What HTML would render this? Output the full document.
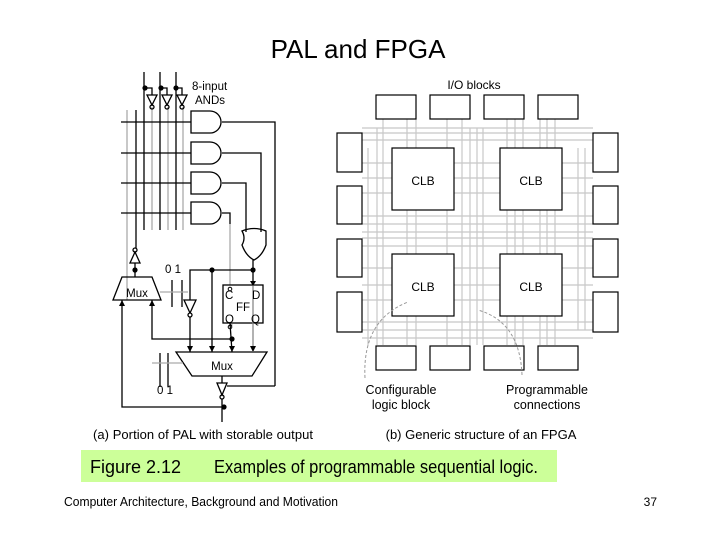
<!DOCTYPE html>
<html><head><style>
body{margin:0;width:720px;height:540px;background:#fff;overflow:hidden;font-family:"Liberation Sans",sans-serif}
</style></head><body>
<svg width="720" height="540" viewBox="0 0 720 540" xmlns="http://www.w3.org/2000/svg" font-family="Liberation Sans, sans-serif">
<text x="358" y="58" font-size="26" text-anchor="middle">PAL and FPGA</text>

<!-- PAL -->
<g stroke="#000" stroke-width="1.3" fill="none">
<line x1="144" y1="72" x2="144" y2="230"/>
<line x1="160" y1="72" x2="160" y2="230"/>
<line x1="176" y1="72" x2="176" y2="230"/>
<line x1="136" y1="110" x2="136" y2="248"/>
</g>
<g stroke="#aaa" stroke-width="1.3" fill="none">
<line x1="127" y1="110" x2="127" y2="300"/>
<line x1="152" y1="107" x2="152" y2="230"/>
<line x1="168" y1="107" x2="168" y2="230"/>
<line x1="183" y1="107" x2="183" y2="230"/>
<line x1="230" y1="224" x2="230" y2="285"/>
</g>
<g stroke="#000" stroke-width="1.3" fill="none">
<path d="M145 88 H152 V95 M161 88 H167 V95 M176 88 H182 V95"/>
<path d="M147 95 H157 L152 105 Z M162 95 H172 L167 105 Z M177 95 H187 L182 105 Z"/>
<circle cx="152" cy="107" r="2"/><circle cx="167" cy="107" r="2"/><circle cx="182" cy="107" r="2"/>
<line x1="121" y1="122" x2="191" y2="122"/>
<line x1="121" y1="153" x2="191" y2="153"/>
<line x1="121" y1="183" x2="191" y2="183"/>
<line x1="121" y1="213" x2="191" y2="213"/>
<path d="M191 111 H210 A11 11 0 0 1 210 133 H191 Z"/>
<path d="M191 142 H210 A11 11 0 0 1 210 164 H191 Z"/>
<path d="M191 172 H210 A11 11 0 0 1 210 194 H191 Z"/>
<path d="M191 202 H210 A11 11 0 0 1 210 224 H191 Z"/>
<path d="M222 122 H275 V386"/>
<path d="M222 153 H261 V232"/>
<path d="M222 183 H246 V232"/>
<path d="M222 213 H230 V224"/>
<path d="M242 231 Q254 226 266 231 V245 Q262 256 254 260 Q246 256 242 245 Q246 238 242 231 Z"/>
<line x1="253" y1="260" x2="253" y2="285"/>
<path d="M130 263 H140 L135 252 Z"/><circle cx="135" cy="250" r="2"/>
<line x1="135" y1="263" x2="135" y2="277"/>
<path d="M122 277 H152 L161 300 H113 Z"/>
<line x1="172" y1="280" x2="172" y2="307"/><line x1="182" y1="280" x2="182" y2="307"/>
<path d="M190 352 V270 H253"/>
<line x1="212" y1="270" x2="212" y2="352"/>
<path d="M184 300 H196 L190 313 Z" fill="#fff"/><circle cx="190" cy="315" r="2" fill="#fff"/>
<rect x="223" y="285" width="40" height="38"/>
<line x1="230" y1="323" x2="232" y2="352"/>
<path d="M152 300 V339 H232"/>
<path d="M176 352 H267 L252 376 H192 Z"/>
<line x1="222" y1="376" x2="222" y2="383"/>
<path d="M217 383 H227 L222 395 Z"/><circle cx="222" cy="397" r="2"/>
<path d="M227 386 H275"/>
<line x1="222" y1="399" x2="222" y2="422"/>
<path d="M224 407 H122 V300"/>
<line x1="160" y1="353" x2="160" y2="387"/><line x1="168" y1="353" x2="168" y2="387"/>
</g>
<g stroke="#aaa" stroke-width="1.3">
<line x1="160" y1="292" x2="188" y2="292"/>
<line x1="152" y1="363" x2="183" y2="363"/>
</g>
<line x1="253" y1="285" x2="253" y2="352" stroke="#888" stroke-width="1.3"/>
<g fill="#000">
<circle cx="145" cy="88" r="2.6"/><circle cx="161" cy="88" r="2.6"/><circle cx="176" cy="88" r="2.6"/>
<circle cx="135" cy="270" r="2.6"/><circle cx="212" cy="270" r="2.6"/><circle cx="253" cy="270" r="2.6"/>
<circle cx="232" cy="339" r="2.6"/><circle cx="224" cy="407" r="2.6"/>
<path d="M187 346 L193 346 L190 352 Z M209 346 L215 346 L212 352 Z M229 346 L235 346 L232 352 Z M250 346 L256 346 L253 352 Z"/>
<path d="M119 306 L125 306 L122 300 Z M149 306 L155 306 L152 300 Z M250 281 L256 281 L253 286 Z"/>
</g>
<circle cx="230" cy="289" r="1.8" fill="none" stroke="#000"/>
<circle cx="230" cy="327" r="1.8" fill="none" stroke="#000"/>
<g font-size="11.5">
<text x="192" y="90">8-input</text><text x="195" y="104">ANDs</text>
<text x="165" y="273">0 1</text><text x="157" y="394">0 1</text>
<text x="137" y="297" text-anchor="middle">Mux</text>
<text x="222" y="370" text-anchor="middle">Mux</text>
<text x="225" y="299">C</text><text x="252" y="299">D</text><text x="236" y="311">FF</text>
<text x="225" y="323">Q</text><text x="251" y="323">Q</text>
<text x="93" y="439" font-size="13" textLength="220">(a) Portion of PAL with storable output</text>
</g>

<!-- FPGA grid -->
<g stroke="#c8c8c8" stroke-width="1.2">
<line x1="368" y1="148" x2="368" y2="345"/><line x1="377" y1="128" x2="377" y2="345"/>
<line x1="383" y1="119" x2="383" y2="345"/><line x1="407" y1="119" x2="407" y2="345"/>
<line x1="416" y1="119" x2="416" y2="345"/><line x1="447" y1="119" x2="447" y2="345"/>
<line x1="462" y1="119" x2="462" y2="345"/><line x1="470" y1="128" x2="470" y2="345"/>
<line x1="477" y1="128" x2="477" y2="345"/><line x1="483" y1="128" x2="483" y2="345"/>
<line x1="507" y1="119" x2="507" y2="345"/><line x1="515" y1="119" x2="515" y2="345"/>
<line x1="523" y1="119" x2="523" y2="345"/><line x1="540" y1="119" x2="540" y2="345"/>
<line x1="547" y1="119" x2="547" y2="345"/><line x1="555" y1="119" x2="555" y2="345"/>
<line x1="585" y1="148" x2="585" y2="330"/><line x1="578" y1="148" x2="578" y2="330"/>
<line x1="362" y1="128" x2="593" y2="128"/><line x1="362" y1="133" x2="593" y2="133"/>
<line x1="362" y1="140" x2="593" y2="140"/><line x1="362" y1="163" x2="593" y2="163"/>
<line x1="362" y1="178" x2="593" y2="178"/><line x1="362" y1="193" x2="593" y2="193"/>
<line x1="362" y1="216" x2="593" y2="216"/><line x1="362" y1="224" x2="593" y2="224"/>
<line x1="362" y1="232" x2="593" y2="232"/><line x1="362" y1="238" x2="593" y2="238"/>
<line x1="362" y1="246" x2="593" y2="246"/><line x1="362" y1="268" x2="593" y2="268"/>
<line x1="362" y1="285" x2="593" y2="285"/><line x1="362" y1="300" x2="593" y2="300"/>
<line x1="362" y1="322" x2="593" y2="322"/><line x1="362" y1="330" x2="593" y2="330"/>
<line x1="362" y1="338" x2="593" y2="338"/>
</g>
<g stroke="#000" stroke-width="1.2" fill="#fff">
<rect x="376" y="95" width="40" height="24"/><rect x="430" y="95" width="40" height="24"/>
<rect x="484" y="95" width="40" height="24"/><rect x="538" y="95" width="40" height="24"/>
<rect x="376" y="346" width="40" height="24"/><rect x="430" y="346" width="40" height="24"/>
<rect x="484" y="346" width="40" height="24"/><rect x="538" y="346" width="40" height="24"/>
<rect x="337" y="133" width="25" height="39"/><rect x="337" y="186" width="25" height="38"/>
<rect x="337" y="239" width="25" height="38"/><rect x="337" y="292" width="25" height="40"/>
<rect x="593" y="133" width="25" height="39"/><rect x="593" y="186" width="25" height="38"/>
<rect x="593" y="239" width="25" height="38"/><rect x="593" y="292" width="25" height="40"/>
<rect x="392" y="148" width="62" height="62"/><rect x="500" y="148" width="62" height="62"/>
<rect x="392" y="254" width="62" height="62"/><rect x="500" y="254" width="62" height="62"/>
</g>
<g font-size="12" text-anchor="middle">
<text x="423" y="185">CLB</text><text x="531" y="185">CLB</text>
<text x="423" y="291">CLB</text><text x="531" y="291">CLB</text>
<text x="474" y="89">I/O blocks</text>
</g>
<g font-size="12.5" text-anchor="middle">
<text x="401" y="394">Configurable</text><text x="401" y="409">logic block</text>
<text x="547" y="394">Programmable</text><text x="547" y="409">connections</text>
<text x="481" y="439" font-size="13">(b) Generic structure of an FPGA</text>
</g>
<g stroke="#999" fill="none" stroke-dasharray="3,2">
<path d="M365 378 Q362 320 408 302"/>
<path d="M522 375 Q520 322 478 310"/>
</g>

<rect x="81" y="450" width="476" height="32" fill="#ccff99"/>
<text x="90" y="473" font-size="18">Figure 2.12</text>
<text x="214" y="473" font-size="18" textLength="324" lengthAdjust="spacingAndGlyphs">Examples of programmable sequential logic.</text>
<text x="64" y="506" font-size="12.5" textLength="274" lengthAdjust="spacingAndGlyphs">Computer Architecture, Background and Motivation</text>
<text x="657" y="506" font-size="12" text-anchor="end">37</text>
</svg>
</body></html>
